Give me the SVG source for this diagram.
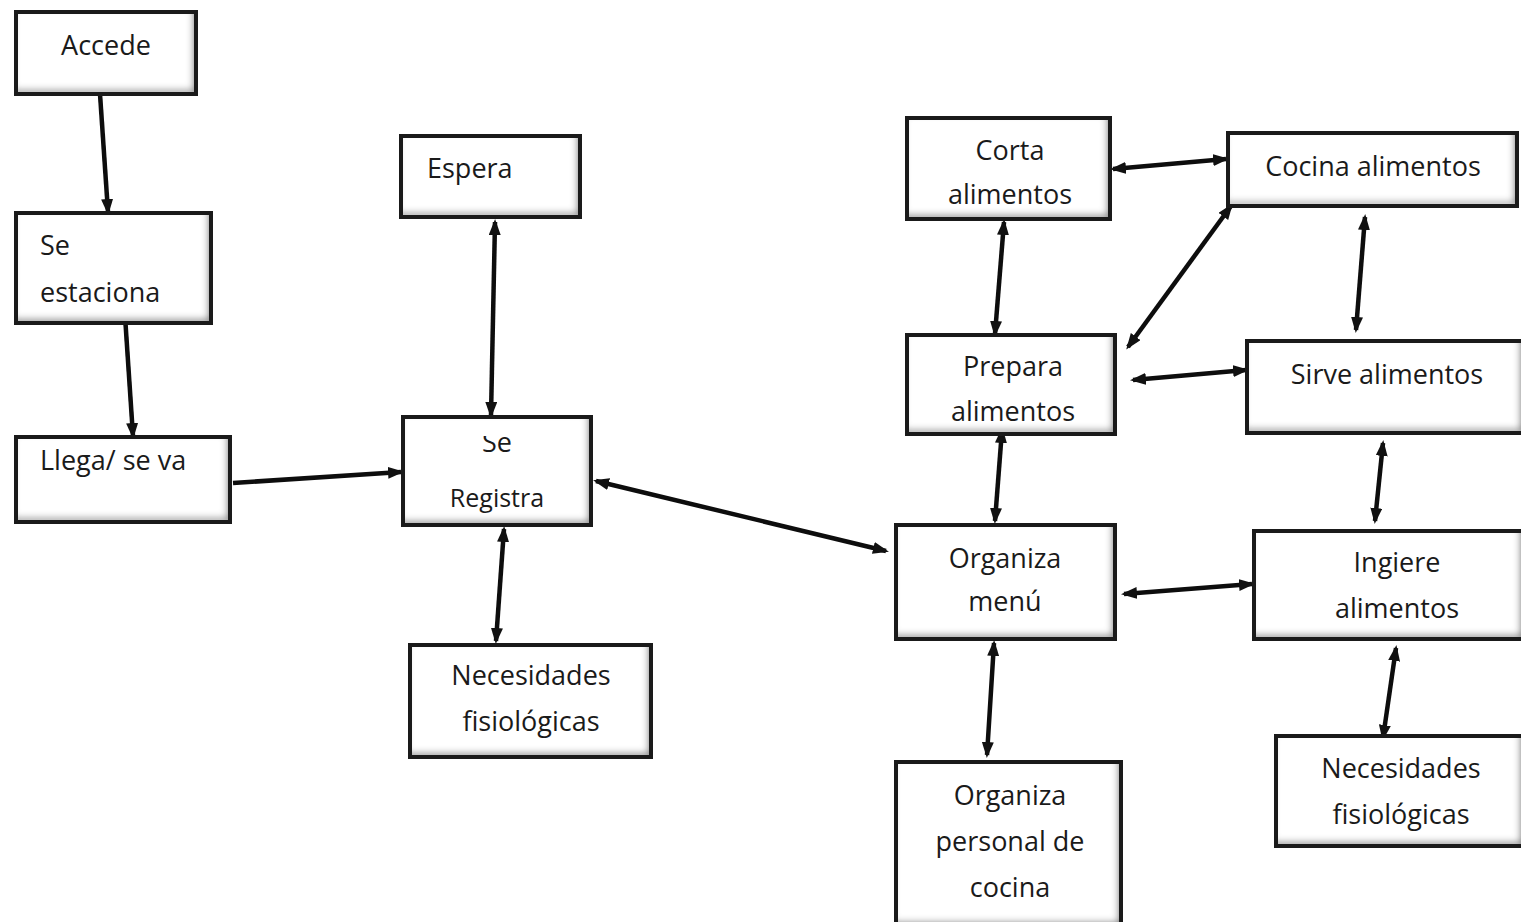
<svg xmlns="http://www.w3.org/2000/svg" width="1521" height="922" viewBox="0 0 1521 922">
<defs>
<filter id="bevel" x="-5%" y="-5%" width="110%" height="110%">
<feFlood flood-color="#6e6e6e" result="f"/>
<feComposite in="f" in2="SourceAlpha" operator="out" result="o"/>
<feGaussianBlur in="o" stdDeviation="3.5" result="b"/>
<feOffset in="b" dx="-3" dy="-4" result="ob"/>
<feComposite in="ob" in2="SourceAlpha" operator="in" result="inner"/>
<feMerge><feMergeNode in="SourceGraphic"/><feMergeNode in="inner"/></feMerge>
</filter>
<marker id="ah" viewBox="0 0 16 12" refX="13" refY="6" markerWidth="16" markerHeight="12" markerUnits="userSpaceOnUse" orient="auto-start-reverse">
<path d="M0,0 L16,6 L0,12 z" fill="#111"/>
</marker>
<clipPath id="clipSe"><rect x="401" y="436" width="191" height="40"/></clipPath>
</defs>
<style>
.bg{fill:#ffffff;filter:url(#bevel)}
.bd{fill:none;stroke:#1a1a1a;stroke-width:4}
.t{font-family:"Open Sans","Noto Sans","DejaVu Sans",sans-serif;font-size:27px;fill:#1a1a1a}
.c{text-anchor:middle}
.cn line{stroke:#0d0d0d;stroke-width:4.5;stroke-linecap:butt}
.one{marker-end:url(#ah)}
.two{marker-start:url(#ah);marker-end:url(#ah)}
</style>
<rect width="1521" height="922" fill="#ffffff"/>

<g id="connectors" class="cn">
<line class="one" x1="100" y1="94" x2="108" y2="212"/>
<line class="one" x1="125" y1="316" x2="133" y2="436"/>
<line class="one" x1="233" y1="483" x2="401" y2="472"/>
<line class="two" x1="495" y1="222" x2="491" y2="415"/>
<line class="two" x1="504" y1="529" x2="496" y2="641"/>
<line class="two" x1="596" y1="481" x2="886" y2="551"/>
<line class="two" x1="1113" y1="169" x2="1226" y2="159"/>
<line class="two" x1="1004" y1="222" x2="995" y2="334"/>
<line class="two" x1="1231" y1="206" x2="1128" y2="347"/>
<line class="two" x1="1365" y1="217" x2="1356" y2="330"/>
<line class="two" x1="1133" y1="380" x2="1246" y2="370"/>
<line class="two" x1="1002" y1="430" x2="995" y2="521"/>
<line class="two" x1="1383" y1="443" x2="1375" y2="521"/>
<line class="two" x1="1124" y1="594" x2="1252" y2="584"/>
<line class="two" x1="994" y1="643" x2="987" y2="755"/>
<line class="two" x1="1396" y1="648" x2="1383" y2="738"/>
</g>

<g id="accede"><rect class="bg" x="16" y="12" width="180" height="82"/><rect class="bd" x="16" y="12" width="180" height="82"/>
<text class="t c" x="106" y="55">Accede</text></g>

<g id="se-estaciona"><rect class="bg" x="16" y="213" width="195" height="110"/><rect class="bd" x="16" y="213" width="195" height="110"/>
<text class="t" x="40" y="255">Se</text><text class="t" x="40" y="302">estaciona</text></g>

<g id="llega"><rect class="bg" x="16" y="437" width="214" height="85"/><rect class="bd" x="16" y="437" width="214" height="85"/>
<text class="t" x="40" y="470">Llega/ se va</text></g>

<g id="espera"><rect class="bg" x="401" y="136" width="179" height="81"/><rect class="bd" x="401" y="136" width="179" height="81"/>
<text class="t" x="427" y="178">Espera</text></g>

<g id="se-registra"><rect class="bg" x="403" y="417" width="188" height="108"/><rect class="bd" x="403" y="417" width="188" height="108"/>
<text class="t c" x="497" y="452" clip-path="url(#clipSe)">Se</text><text class="t c" x="497" y="507" style="font-size:25px">Registra</text></g>

<g id="necesidades-1"><rect class="bg" x="410" y="645" width="241" height="112"/><rect class="bd" x="410" y="645" width="241" height="112"/>
<text class="t c" x="531" y="685">Necesidades</text><text class="t c" x="531" y="731">fisiológicas</text></g>

<g id="corta"><rect class="bg" x="907" y="118" width="203" height="101"/><rect class="bd" x="907" y="118" width="203" height="101"/>
<text class="t c" x="1010" y="160">Corta</text><text class="t c" x="1010" y="204">alimentos</text></g>

<g id="cocina"><rect class="bg" x="1228" y="133" width="289" height="73"/><rect class="bd" x="1228" y="133" width="289" height="73"/>
<text class="t c" x="1373" y="176">Cocina alimentos</text></g>

<g id="prepara"><rect class="bg" x="907" y="335" width="208" height="99"/><rect class="bd" x="907" y="335" width="208" height="99"/>
<text class="t c" x="1013" y="376">Prepara</text><text class="t c" x="1013" y="421">alimentos</text></g>

<g id="sirve"><rect class="bg" x="1247" y="341" width="276" height="92"/><rect class="bd" x="1247" y="341" width="276" height="92"/>
<text class="t c" x="1387" y="384">Sirve alimentos</text></g>

<g id="organiza-menu"><rect class="bg" x="896" y="525" width="219" height="114"/><rect class="bd" x="896" y="525" width="219" height="114"/>
<text class="t c" x="1005" y="568">Organiza</text><text class="t c" x="1005" y="611">menú</text></g>

<g id="ingiere"><rect class="bg" x="1254" y="531" width="269" height="108"/><rect class="bd" x="1254" y="531" width="269" height="108"/>
<text class="t c" x="1397" y="572">Ingiere</text><text class="t c" x="1397" y="618">alimentos</text></g>

<g id="organiza-personal"><rect class="bg" x="896" y="762" width="225" height="164"/><rect class="bd" x="896" y="762" width="225" height="164"/>
<text class="t c" x="1010" y="805">Organiza</text><text class="t c" x="1010" y="851">personal de</text><text class="t c" x="1010" y="897">cocina</text></g>

<g id="necesidades-2"><rect class="bg" x="1276" y="736" width="247" height="110"/><rect class="bd" x="1276" y="736" width="247" height="110"/>
<text class="t c" x="1401" y="778">Necesidades</text><text class="t c" x="1401" y="824">fisiológicas</text></g>
</svg>
